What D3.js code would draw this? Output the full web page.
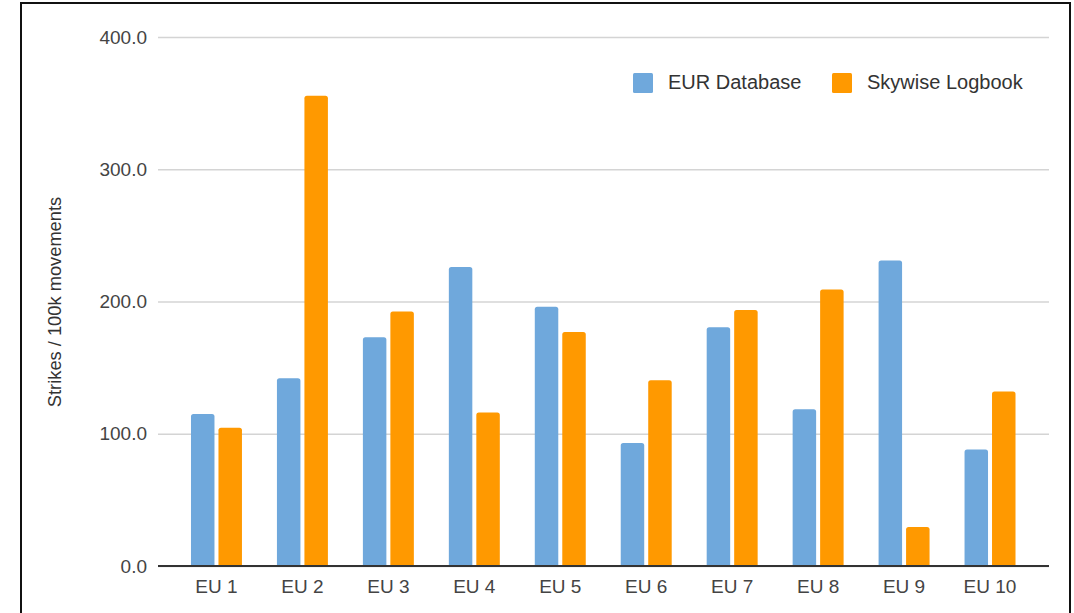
<!DOCTYPE html>
<html>
<head>
<meta charset="utf-8">
<script src="https://cdn.jsdelivr.net/npm/d3@7"></script>
<style>
  body { margin: 0; background: #fff; }
  svg { display: block; font-family: "Liberation Sans", Arial, sans-serif; }
  .axis text { fill: #444; font-size: 19px; }
  .grid line { stroke: #d4d4d4; stroke-width: 1.3; }
  .grid .domain { display: none; }
</style>
</head>
<body>
<div id="chart"></div>
<script>
var categories = ['EU 1', 'EU 2', 'EU 3', 'EU 4', 'EU 5', 'EU 6', 'EU 7', 'EU 8', 'EU 9', 'EU 10'];
var seriesNames = ['EUR Database', 'Skywise Logbook'];
var eurDatabase = [115, 142, 173, 226, 196, 93, 180.5, 118.5, 231, 88];
var skywiseLogbook = [104.5, 355.5, 192.5, 116, 177, 140.5, 193.5, 209, 29.5, 132];
var yTicks = [0, 100, 200, 300, 400];
var colors = ['#6fa8dc', '#ff9900'];

function initChart(divId) {
  var W = 1074, H = 613;
  var left = 158, right = 1049, top = 37, bottom = 566;

  var svg = d3.select('#' + divId)
    .append('svg')
    .attr('width', W)
    .attr('height', H);

  // outer frame
  svg.append('rect')
    .attr('x', 21).attr('y', 3)
    .attr('width', 1049).attr('height', 640)
    .attr('fill', 'none')
    .attr('stroke', '#111')
    .attr('stroke-width', 2);

  var x0 = d3.scaleBand()
    .domain(categories)
    .range([173.5, 1033])
    .paddingInner(0.407)
    .paddingOuter(0.2035);

  var x1 = d3.scaleBand()
    .domain(seriesNames)
    .range([0, x0.bandwidth()])
    .paddingInner(0.1455);

  var y = d3.scaleLinear().domain([0, 400]).range([bottom, top]);

  // gridlines + y labels
  var gy = svg.append('g')
    .attr('class', 'axis grid')
    .attr('transform', 'translate(' + left + ',0)')
    .call(d3.axisLeft(y).tickValues(yTicks).tickFormat(d3.format('.1f'))
      .tickSize(-(right - left)).tickPadding(11));
  gy.selectAll('.tick text').attr('dy', '0.32em');

  // bars
  var rows = categories.map(function(c, i) {
    return { cat: c, vals: [eurDatabase[i], skywiseLogbook[i]] };
  });

  function barPath(x, yTop, w, h) {
    var r = Math.min(2.5, h);
    return 'M' + x + ',' + (yTop + h) +
      'V' + (yTop + r) +
      'Q' + x + ',' + yTop + ' ' + (x + r) + ',' + yTop +
      'H' + (x + w - r) +
      'Q' + (x + w) + ',' + yTop + ' ' + (x + w) + ',' + (yTop + r) +
      'V' + (yTop + h) + 'Z';
  }

  var groups = svg.selectAll('.group')
    .data(rows)
    .enter().append('g')
    .attr('class', 'group')
    .attr('transform', function(d) { return 'translate(' + x0(d.cat) + ',0)'; });

  groups.selectAll('path')
    .data(function(d) { return d.vals.map(function(v, j) { return { s: seriesNames[j], v: v, j: j }; }); })
    .enter().append('path')
    .attr('fill', function(d) { return colors[d.j]; })
    .attr('d', function(d) {
      return barPath(x1(d.s), y(d.v), x1.bandwidth(), bottom - y(d.v));
    });

  // baseline
  svg.append('line')
    .attr('x1', left).attr('x2', right)
    .attr('y1', bottom).attr('y2', bottom)
    .attr('stroke', '#333')
    .attr('stroke-width', 1.8);

  // x axis labels
  var gx = svg.append('g')
    .attr('class', 'axis')
    .attr('transform', 'translate(0,' + bottom + ')')
    .call(d3.axisBottom(x0).tickSize(0).tickPadding(14));
  gx.select('.domain').remove();
  gx.selectAll('.tick text').attr('dy', '0.71em');

  // y title
  svg.append('text')
    .attr('transform', 'translate(61,302) rotate(-90)')
    .attr('text-anchor', 'middle')
    .attr('fill', '#333')
    .style('font-size', '18.3px')
    .text('Strikes / 100k movements');

  // legend
  var legendX = [633, 832];
  var legend = svg.selectAll('.legend')
    .data(seriesNames)
    .enter().append('g')
    .attr('class', 'legend')
    .attr('transform', function(d, i) { return 'translate(' + legendX[i] + ',73)'; });
  legend.append('rect')
    .attr('width', 20).attr('height', 20).attr('rx', 1.5)
    .attr('fill', function(d, i) { return colors[i]; });
  legend.append('text')
    .attr('x', 35).attr('y', 16)
    .attr('fill', '#333')
    .style('font-size', '20px')
    .text(function(d) { return d; });
}

initChart('chart');
</script>
</body>
</html>
